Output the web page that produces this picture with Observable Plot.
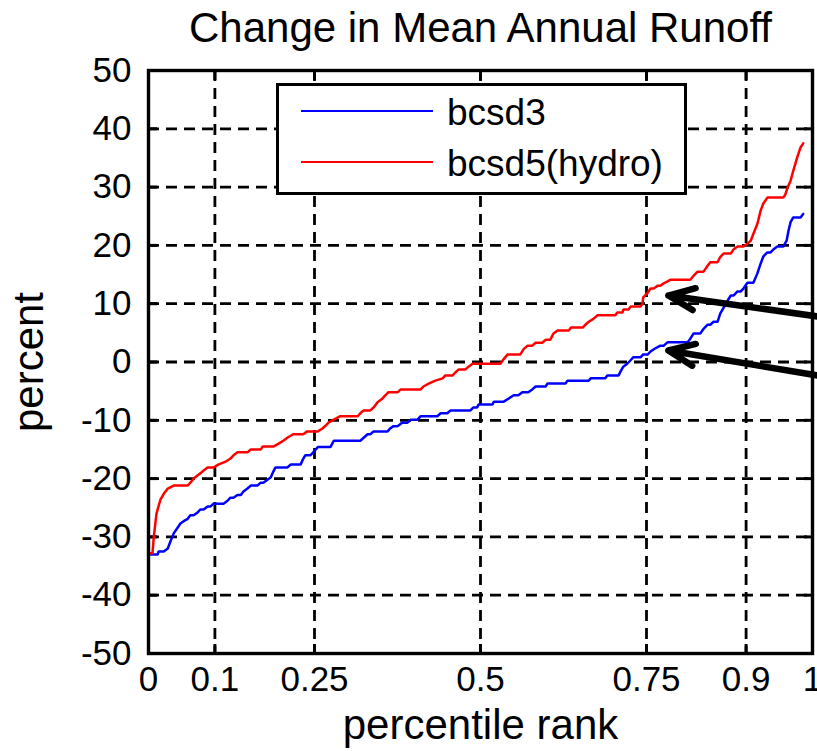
<!DOCTYPE html>
<html>
<head>
<meta charset="utf-8">
<script src="https://cdn.jsdelivr.net/npm/d3@7"></script>
<script src="https://cdn.jsdelivr.net/npm/@observablehq/plot@0.6"></script>
<style>
  html, body { margin: 0; padding: 0; background: #fff; overflow: hidden; }
  #wrap { position: relative; width: 817px; height: 751px; font-family: "Liberation Sans", Arial, sans-serif; }
  #legend { position: absolute; left: 276px; top: 83px; width: 411px; height: 112px; box-sizing: border-box;
            border: 3px solid #000; background: #fff; }
  .lline { position: absolute; left: 22px; width: 132px; height: 2.5px; }
  .ltext { position: absolute; left: 168px; font-size: 37px; line-height: 37px; color: #000; white-space: nowrap; }
</style>
</head>
<body>
<div id="wrap"></div>
<script>
// ---- data ----
const title = "Change in Mean Annual Runoff";
const xLabel = "percentile rank";
const yLabel = "percent";
const xTicks = [0, 0.1, 0.25, 0.5, 0.75, 0.9, 1];
const yTicks = [-50, -40, -30, -20, -10, 0, 10, 20, 30, 40, 50];
const seriesNames = ["bcsd3", "bcsd5(hydro)"];
const seriesColors = ["#0000ff", "#ff0000"];

const bcsd3Rank = [0,0.014,0.015,0.023,0.029,0.033,0.038,0.044,0.048,0.053,0.059,0.063,0.068,0.074,0.078,0.083,0.089,0.093,0.098,0.113,0.119,0.123,0.128,0.134,0.139,0.143,0.149,0.154,0.164,0.169,0.173,0.179,0.184,0.188,0.191,0.209,0.214,0.229,0.233,0.236,0.244,0.248,0.255,0.274,0.279,0.319,0.324,0.330,0.334,0.339,0.360,0.364,0.369,0.375,0.382,0.390,0.395,0.405,0.410,0.435,0.440,0.450,0.455,0.485,0.489,0.495,0.497,0.518,0.520,0.535,0.542,0.550,0.557,0.563,0.572,0.578,0.583,0.598,0.601,0.628,0.631,0.663,0.666,0.688,0.691,0.708,0.711,0.715,0.721,0.726,0.730,0.741,0.745,0.752,0.756,0.764,0.771,0.776,0.782,0.812,0.816,0.821,0.831,0.836,0.842,0.846,0.851,0.857,0.861,0.866,0.872,0.877,0.881,0.887,0.892,0.896,0.902,0.911,0.917,0.922,0.926,0.932,0.937,0.941,0.947,0.956,0.961,0.964,0.967,0.971,0.982,0.986];
const bcsd3Value = [-33,-33,-32.5,-32.5,-32,-30.8,-29.4,-28.4,-27.7,-27.3,-26.9,-26.3,-26.3,-25.8,-25.3,-25.3,-24.8,-24.8,-24.3,-24.3,-23.8,-23.3,-23.3,-22.8,-22.8,-22.2,-21.7,-21.2,-21.2,-20.7,-20.7,-20.2,-19.8,-18.8,-18.1,-18.1,-17.6,-17.6,-16.6,-16,-16,-15.5,-14.6,-14.6,-13.5,-13.5,-13,-12.4,-12.4,-11.9,-11.9,-11.4,-11,-11,-10.4,-10.4,-9.9,-9.9,-9.3,-9.3,-8.8,-8.8,-8.3,-8.3,-7.8,-7.8,-7.3,-7.3,-6.8,-6.8,-6.3,-5.7,-5.7,-5.2,-5.2,-4.7,-4.2,-4.2,-3.7,-3.7,-3.2,-3.2,-2.8,-2.8,-2.3,-2.3,-1.6,-0.8,-0.3,0.3,0.8,0.8,1.3,1.3,1.8,2.4,2.8,2.8,3.4,3.4,4,4.9,4.9,5.7,6.4,6.4,6.9,6.9,8.3,9.3,10.5,11.4,11.4,12.1,12.1,12.6,13.6,13.6,15.2,16.9,18.1,18.8,18.8,19.3,19.8,19.8,20.8,22.6,24,24.8,24.8,25.4];

const bcsd5Rank = [0,0.006,0.008,0.012,0.018,0.023,0.029,0.038,0.059,0.063,0.068,0.078,0.083,0.089,0.098,0.105,0.116,0.123,0.128,0.134,0.149,0.154,0.169,0.172,0.188,0.196,0.203,0.209,0.218,0.233,0.239,0.255,0.262,0.267,0.271,0.279,0.289,0.315,0.319,0.324,0.334,0.339,0.345,0.352,0.357,0.361,0.375,0.380,0.410,0.414,0.422,0.432,0.443,0.447,0.458,0.462,0.467,0.477,0.482,0.488,0.530,0.535,0.541,0.560,0.565,0.571,0.578,0.583,0.593,0.598,0.605,0.610,0.616,0.633,0.636,0.654,0.658,0.663,0.670,0.676,0.703,0.706,0.714,0.715,0.723,0.726,0.741,0.744,0.745,0.752,0.756,0.761,0.767,0.771,0.776,0.786,0.816,0.821,0.827,0.836,0.842,0.846,0.857,0.861,0.866,0.877,0.881,0.887,0.896,0.902,0.907,0.911,0.917,0.922,0.926,0.932,0.956,0.959,0.962,0.967,0.971,0.977,0.982,0.986];
const bcsd5Value = [-32.8,-32.8,-30,-26,-23.6,-22.6,-21.7,-21.2,-21.2,-20.7,-20,-19.1,-18.6,-18.1,-18.1,-17.6,-17.1,-16.6,-16,-15.5,-15.5,-15,-15,-14.5,-14.5,-14,-13.5,-13,-12.4,-12.4,-11.9,-11.9,-11.4,-10.9,-10.4,-9.9,-9.3,-9.3,-8.8,-8.3,-8.3,-7.8,-6.9,-6.3,-5.7,-5.2,-5.2,-4.7,-4.7,-4.2,-3.7,-3.2,-2.8,-2.3,-2.3,-1.8,-1.3,-1.3,-0.8,-0.3,-0.3,0.5,1.3,1.3,2.2,2.8,2.8,3.3,3.3,3.8,3.8,4.9,5.4,5.4,5.9,5.9,6.4,6.9,7.4,8.0,8.0,8.5,8.5,9.0,9.0,9.5,9.5,10,11.1,11.9,12.6,12.6,13.1,13.1,13.5,14.1,14.1,14.8,15.5,15.5,16.5,17.1,17.1,18,18.6,18.6,19.3,19.8,19.8,20.3,20.8,22,23.7,26,27.2,28.2,28.2,28.7,29.8,31.1,32.8,35.1,36.8,37.5];

// annotation arrows: tail (outside right edge) -> tip (percentile rank, percent)
const arrowTailRank = [1.03, 1.03];
const arrowTailValue = [7.46, -2.74];
const arrowTipRank = [0.783, 0.783];
const arrowTipValue = [11.4, 1.97];

// ---- build tables ----
const lines = [
  ...bcsd3Rank.map((r, i) => ({series: seriesNames[0], rank: r, value: bcsd3Value[i]})),
  ...bcsd5Rank.map((r, i) => ({series: seriesNames[1], rank: r, value: bcsd5Value[i]}))
];
const arrows = arrowTipRank.map((r, i) => ({x1: arrowTailRank[i], y1: arrowTailValue[i], x2: r, y2: arrowTipValue[i]}));

const font = "Liberation Sans, Arial, sans-serif";
const dash = "11,7";

const chart = Plot.plot({
  width: 817,
  height: 751,
  marginLeft: 148,
  marginRight: 5,
  marginTop: 70,
  marginBottom: 98,
  style: {fontFamily: font, background: "#fff", color: "#000", overflow: "visible"},
  x: {domain: [0, 1], axis: null},
  y: {domain: [-50, 50], axis: null},
  color: {domain: seriesNames, range: seriesColors},
  marks: [
    Plot.gridX(xTicks, {stroke: "#000", strokeOpacity: 1, strokeWidth: 2.8, strokeDasharray: dash}),
    Plot.gridY(yTicks, {stroke: "#000", strokeOpacity: 1, strokeWidth: 2.8, strokeDasharray: dash}),
    Plot.axisX(xTicks, {anchor: "bottom", tickSize: 0, tickPadding: 13, fontSize: 35,
      tickFormat: d => String(d)}),
    Plot.axisY(yTicks, {anchor: "left", tickSize: 0, tickPadding: 17, fontSize: 35,
      tickFormat: d => String(d)}),
    Plot.axisX(xTicks, {anchor: "bottom", tickSize: -9, strokeWidth: 3, tickFormat: () => ""}),
    Plot.axisX(xTicks, {anchor: "top", tickSize: -9, strokeWidth: 3, tickFormat: () => ""}),
    Plot.axisY(yTicks, {anchor: "left", tickSize: -9, strokeWidth: 3, tickFormat: () => ""}),
    Plot.axisY(yTicks, {anchor: "right", tickSize: -9, strokeWidth: 3, tickFormat: () => ""}),
    Plot.line(lines, {x: "rank", y: "value", z: "series", stroke: "series", strokeWidth: 2.5, strokeLinejoin: "miter"}),
    Plot.frame({stroke: "#000", strokeWidth: 3.4}),
    Plot.arrow(arrows, {x1: "x1", y1: "y1", x2: "x2", y2: "y2", stroke: "#000", strokeWidth: 6.5,
      headLength: 6.5, headAngle: 46, strokeLinecap: "round", strokeLinejoin: "round"}),
    Plot.text([title], {frameAnchor: "top", dy: -42, fontSize: 42, lineAnchor: "middle"}),
    Plot.text([xLabel], {frameAnchor: "bottom", dy: 72, fontSize: 42, lineAnchor: "middle"}),
    Plot.text([yLabel], {frameAnchor: "left", dx: -119, rotate: -90, fontSize: 42,
      lineAnchor: "middle", textAnchor: "middle"})
  ]
});

const wrap = document.getElementById("wrap");
wrap.appendChild(chart);

// legend (HTML overlay)
const legend = document.createElement("div");
legend.id = "legend";
const lineTops = [23.7, 74.7];
const textTops = [7.5, 58.5];
seriesNames.forEach((name, i) => {
  const l = document.createElement("div");
  l.className = "lline";
  l.style.top = lineTops[i] + "px";
  l.style.background = seriesColors[i];
  legend.appendChild(l);
  const t = document.createElement("div");
  t.className = "ltext";
  t.style.top = textTops[i] + "px";
  t.textContent = name;
  legend.appendChild(t);
});
wrap.appendChild(legend);
</script>
</body>
</html>
